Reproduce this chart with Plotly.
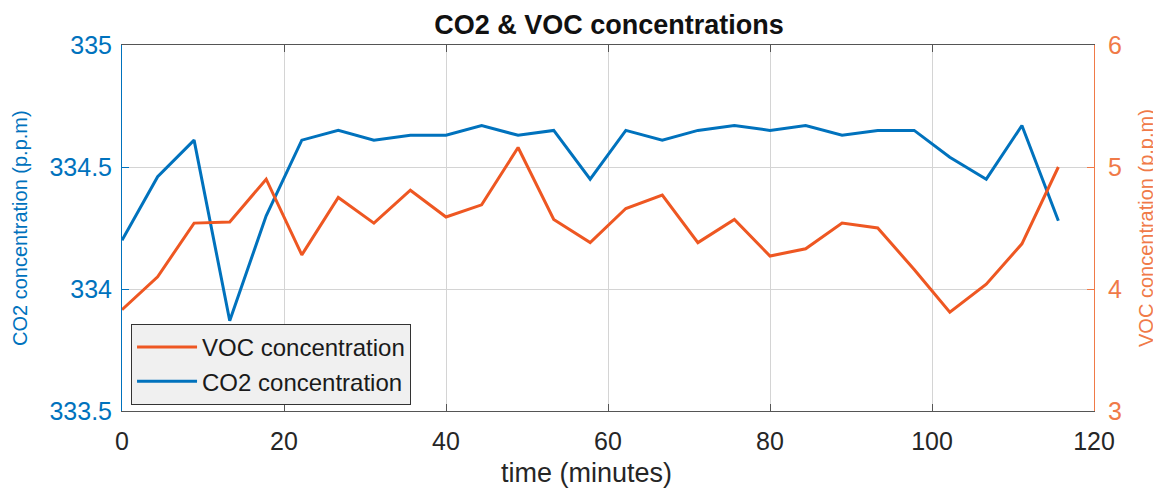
import plotly.graph_objects as go

time_min = [0, 4.4, 8.9, 13.3, 17.8, 22.2, 26.7, 31.1, 35.6, 40.0, 44.4, 48.9, 53.3, 57.8,
            62.2, 66.7, 71.1, 75.6, 80.0, 84.4, 88.9, 93.3, 97.8, 102.2, 106.7, 111.1, 115.6]
co2 = [334.20, 334.46, 334.61, 333.87, 334.30, 334.61, 334.65, 334.61, 334.63, 334.63,
       334.67, 334.63, 334.65, 334.45, 334.65, 334.61, 334.65, 334.67, 334.65, 334.67,
       334.63, 334.65, 334.65, 334.54, 334.45, 334.67, 334.28]
voc = [3.83, 4.10, 4.54, 4.55, 4.90, 4.28, 4.75, 4.54, 4.81, 4.59, 4.69, 5.16, 4.57, 4.38,
       4.66, 4.77, 4.38, 4.57, 4.27, 4.33, 4.54, 4.50, 4.16, 3.81, 4.04, 4.37, 5.00]

x_ticks = [0, 20, 40, 60, 80, 100, 120]
co2_ticks = [333.5, 334, 334.5, 335]
co2_tick_text = ["333.5", "334", "334.5", "335"]
voc_ticks = [3, 4, 5, 6]

BLUE = "#0072BD"
ORANGE = "#EE5722"
ORANGE_AX = "#F07A48"
FONT = "Liberation Sans"
GRID = "#D4D4D4"

fig = go.Figure()
fig.add_trace(go.Scatter(x=time_min, y=voc, name="VOC concentration", mode="lines",
                         line=dict(color=ORANGE, width=3), yaxis="y2"))
fig.add_trace(go.Scatter(x=time_min, y=co2, name="CO2 concentration", mode="lines",
                         line=dict(color=BLUE, width=3), yaxis="y"))

# page body has an 8px margin, so the figure is sized to fill the rest of the window
fig.update_layout(
    width=1153, height=486,
    margin=dict(l=114, r=67, t=37, b=83),
    paper_bgcolor="white", plot_bgcolor="white",
    font=dict(family=FONT, color="#262626"),
    title=dict(text="<b>CO2 & VOC concentrations</b>", x=0.5213, xanchor="center",
               y=0.966, yanchor="middle", font=dict(size=27, color="#111111")),
    xaxis=dict(range=[0, 120], tickvals=x_ticks, showgrid=True, gridcolor=GRID,
               gridwidth=1, zeroline=False, showline=True, linecolor="#555555", linewidth=1,
               mirror="ticks", ticks="inside", ticklen=7, tickcolor="#555555",
               tickfont=dict(size=25, color="#262626"), ticklabelstandoff=8,
               automargin=False),
    yaxis=dict(range=[333.5, 335], tickvals=co2_ticks, ticktext=co2_tick_text,
               showgrid=True, gridcolor=GRID, zeroline=False, showline=True,
               linecolor=BLUE, linewidth=1, ticks="inside", ticklen=7, tickcolor=BLUE,
               tickfont=dict(size=25, color=BLUE), ticklabelstandoff=4,
               automargin=False),
    yaxis2=dict(range=[3, 6], tickvals=voc_ticks, overlaying="y", side="right",
                showgrid=False, zeroline=False, showline=True, linecolor=ORANGE_AX,
                linewidth=1, ticks="inside", ticklen=7, tickcolor=ORANGE_AX,
                tickfont=dict(size=25, color=ORANGE_AX), ticklabelstandoff=8,
                automargin=False),
    legend=dict(x=0.0093, y=0.238, xanchor="left", yanchor="top",
                bgcolor="#F0F0F0", bordercolor="#333333", borderwidth=1,
                font=dict(size=24, color="#1a1a1a"), traceorder="normal",
                itemwidth=60, tracegroupgap=0, entrywidth=310, entrywidthmode="pixels"),
    showlegend=True,
    annotations=[
        dict(text="time (minutes)", xref="paper", yref="paper",
             x=(586 - 122) / 972, y=-(473 - 411) / 366, xanchor="center", yanchor="middle",
             showarrow=False, font=dict(size=27, color="#262626")),
        dict(text="CO2 concentration (p.p.m)", xref="paper", yref="paper",
             x=-(122 - 20) / 972, y=0.5, xanchor="center", yanchor="middle", textangle=-90,
             showarrow=False, font=dict(size=20, color=BLUE)),
        dict(text="VOC concentration (p.p.m)", xref="paper", yref="paper",
             x=1 + (1146 - 1094) / 972, y=0.5, xanchor="center", yanchor="middle",
             textangle=-90, showarrow=False, font=dict(size=20, color=ORANGE_AX)),
    ],
)

fig.write_html("out.html")
